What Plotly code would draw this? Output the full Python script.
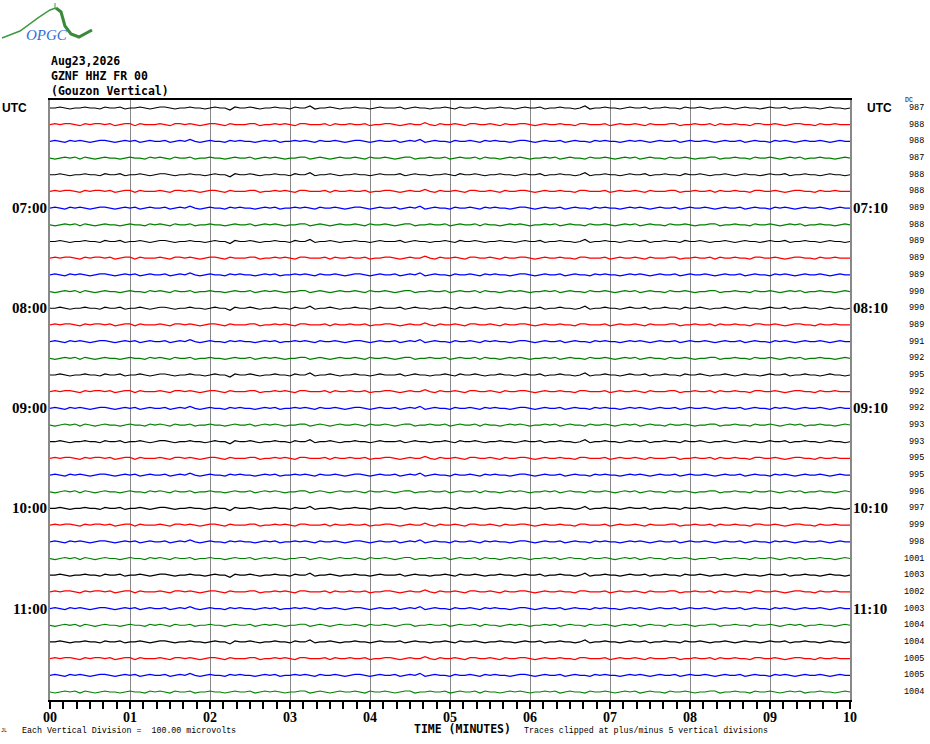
import numpy as np
import plotly.graph_objects as go

# --- data -------------------------------------------------------------
header_lines = ["Aug23,2026", "GZNF HHZ FR 00", "(Gouzon Vertical)"]
hour_rows = [6, 12, 18, 24, 30]
left_hour_labels = ["07:00", "08:00", "09:00", "10:00", "11:00"]
right_hour_labels = ["07:10", "08:10", "09:10", "10:10", "11:10"]
minute_ticks = list(range(11))
minute_labels = ["00", "01", "02", "03", "04", "05", "06", "07", "08", "09", "10"]
dc_offsets = [987, 988, 988, 987, 988, 988, 989, 988,
              989, 989, 989, 990, 990, 989, 991, 992, 995, 992, 992, 993, 993, 995,
              995, 996, 997, 999, 998, 1001, 1003, 1002, 1003, 1004, 1004, 1005, 1005, 1004]
trace_colors = ["black", "red", "blue", "green"]

# trace wiggle (pixels, + = up), one per colour
wiggle_black = [0, 0, 1, 0, -1, 0, 0, 1, 0, 0, -1, 1, 0, 0, 1, -1, 0, 0, 1, 0,
                -1, 0, 1, 1, 0, -1, 0, 0, 1, 0, 0, -1, 0, 1, 0, 0, -2, 1, 0, 0,
                1, 0, -1, 0, 0, 1, 0, 0, -1, 1, 0, 0, 2, -1, 0, 0, 1, 0, -1, 0,
                0, 1, 0, 0, -1, 0, 1, 0, 0, 0, 1, -1, 0, 1, 0, 0, -1, 0, 0, 1,
                0, -1, 1, 0, 0, 1, 0, -1, 0, 0, 1, 0, 0, -1, 0, 1, 0, 0, 1, -1,
                0, 0, 1, 0, 0, -1, 0, 2, -1, 0, 0, 1, 0, 0, -1, 0, 1, 0, 0, 1,
                -1, 0, 0, 1, 0, 0, -1, 1, 0, 0, 1, 0, -1, 0, 0, 1, 0, -1, 0, 1,
                0, 0, -1, 0, 1, 0, 0, 1, -1, 0, 0, 1, 0, 0, -1, 0, 1, 0, 0, -1, 0]
wiggle_red = [0, 1, 0, 1, 1, 0, -1, 1, 0, 1, 1, 0, 1, -1, 0, 1, 1, -1, 1, 0,
              0, 0, 1, 0, -1, 1, 1, 0, 1, 0, -1, 0, 1, 1, 0, -1, 1, 0, 0, 0,
              1, 1, -1, 0, 0, 1, 0, 1, 0, -1, 1, 1, 0, 0, 0, 1, -1, 1, 0, 0,
              1, 0, 0, 1, -1, 0, 0, 1, 1, 0, -1, 0, 1, 0, 0, 2, 0, -1, 1, 0,
              0, 1, 0, -1, 1, 1, 0, 0, 1, 0, -1, 1, 0, 0, 1, 1, 0, -1, 0, 1,
              0, 0, 1, 0, 0, -1, 1, 1, 0, 0, 0, 1, -1, 0, 1, 0, 0, 1, 0, -1,
              1, 0, 0, 0, 1, 1, -1, 0, 0, 1, 0, 0, 1, -1, 1, 0, 0, 1, 0, 0,
              -1, 1, 1, 0, 0, 1, 0, -1, 0, 1, 1, 0, 0, -1, 1, 0, 0, 1, 0, 0, 0]
wiggle_blue = [0, 1, 0, -1, 1, 0, 1, 0, -1, 0, 1, 1, 0, -1, 0, 1, 0, 1, -1, 0,
               1, 0, 0, 1, -1, 0, 1, 0, 2, 0, -1, 0, 1, 0, 0, -1, 1, 0, 1, 0,
               0, -1, 0, 1, 0, 1, -1, 0, 0, 1, 0, 1, 0, -1, 1, 0, 0, 1, 0, -1,
               0, 1, 1, 0, -1, 0, 1, 0, 0, 1, -1, 0, 1, 0, 2, -1, 0, 1, 0, 0,
               -1, 1, 0, 0, 1, 0, -1, 1, 0, 1, 0, 0, -1, 0, 1, 1, 0, -1, 0, 1,
               0, 0, 1, -1, 0, 1, 0, 0, -1, 1, 0, 1, 0, 0, -1, 0, 1, 0, 1, 0,
               -1, 0, 1, 0, 0, 1, -1, 0, 1, 0, 0, 1, 0, -1, 0, 1, 0, 0, 1, -1,
               0, 1, 0, 0, -1, 1, 0, 1, 0, -1, 0, 1, 0, 0, 1, 0, -1, 0, 1, 0, 0]
wiggle_green = [0, -1, 0, 1, 0, 1, -1, 1, 0, -1, 0, 1, 0, 0, -1, 0, 1, 0, 0, -1,
                1, 0, 1, 0, -1, 1, 0, 0, 1, -1, 0, 0, 1, 0, 0, -1, 0, 1, 0, 0,
                1, -1, 0, 1, 0, 1, 0, -1, 0, 0, 1, 1, -1, 0, 1, 0, -1, 0, 1, 0,
                0, 1, 0, -1, 1, 0, 0, 1, 0, -1, 0, 1, 1, -1, 0, 0, 1, 0, 0, 1,
                -1, 0, 1, 0, 0, 1, -1, 1, 0, 0, -1, 0, 1, 0, 1, 0, -1, 0, 0, 1,
                0, 1, -1, 0, 1, 0, 0, -1, 1, 0, 0, 1, 0, -1, 0, 1, 0, 1, -1, 0,
                1, 0, 0, -1, 1, 0, 0, 1, 0, -1, 0, 0, 1, 1, -1, 0, 0, 1, 0, 0,
                -1, 1, 0, 0, 1, 0, -1, 0, 1, 0, 1, -1, 0, 0, 1, 0, 0, -1, 0, 1, 0]
wiggles = [wiggle_black, wiggle_red, wiggle_blue, wiggle_green]

# --- geometry (px of the 930x744 page) ----------------------------------
W, H = 930, 744
L, R, T, B = 50, 850, 100, 700
ROW0, ROW_STEP = 108, 16.686
n_rows = len(dc_offsets)
y_top = (T - ROW0) / ROW_STEP
y_bot = (B - ROW0) / ROW_STEP


def px_x(x):
    return (x - L) / (R - L)


def px_y(y):
    return (B - y) / (B - T)


fig = go.Figure()

for row in range(n_rows):
    w = wiggles[row % 4]
    minutes = np.linspace(0, 10, len(w))
    fig.add_trace(go.Scatter(
        x=minutes,
        y=row - np.array(w) / ROW_STEP,
        mode="lines",
        line=dict(color=trace_colors[row % 4], width=1.2),
        hoverinfo="skip",
        showlegend=False,
    ))

ann = []
mono = "DejaVu Sans Mono"
for i, txt in enumerate(header_lines):
    ann.append(dict(x=px_x(49), y=px_y(61 + 15 * i), text=txt, xanchor="left",
                    font=dict(family=mono, size=11.5, color="black", weight="bold")))

bold_sans = dict(family="Liberation Sans", size=12, color="black", weight="bold")
bold_serif = dict(family="Liberation Serif", size=15, color="black", weight="bold")
ann.append(dict(x=px_x(0), y=0, yref="y", text="UTC", xanchor="left", font=bold_sans))
ann.append(dict(x=px_x(865), y=0, yref="y", text="UTC", xanchor="left", font=bold_sans))
for r, lt, rt in zip(hour_rows, left_hour_labels, right_hour_labels):
    ann.append(dict(x=px_x(49), y=r, yref="y", text=lt, xanchor="right", font=bold_serif))
    ann.append(dict(x=px_x(851), y=r, yref="y", text=rt, xanchor="left", font=bold_serif))

for r, dc in enumerate(dc_offsets):
    ann.append(dict(x=px_x(926), y=r, yref="y", text=str(dc), xanchor="right",
                    font=dict(family="Liberation Mono", size=8.5, color="black")))
ann.append(dict(x=px_x(903), y=px_y(100), text="DC", xanchor="left",
                font=dict(family="Liberation Mono", size=6.5, color="black")))

ann.append(dict(x=px_x(462), y=px_y(729), text="TIME (MINUTES)", xanchor="center",
                font=dict(family=mono, size=11.5, color="black", weight="bold")))
ann.append(dict(x=px_x(20), y=px_y(730), text="Each Vertical Division =  100.00 microvolts",
                xanchor="left", font=dict(family="Liberation Mono", size=8.3, color="black")))
ann.append(dict(x=px_x(522), y=px_y(730),
                text="Traces clipped at plus/minus 5 vertical divisions",
                xanchor="left", font=dict(family="Liberation Mono", size=8.3, color="black")))
ann.append(dict(x=px_x(4), y=px_y(731), text="JL", xanchor="center",
                font=dict(family="Liberation Mono", size=5, color="black")))

# logo
ann.append(dict(x=px_x(47), y=px_y(35), text="<i>OPGC</i>", xanchor="center",
                font=dict(family="Liberation Serif", size=15, color="#2f6fd6")))
for a in ann:
    a.setdefault("xref", "paper")
    a.setdefault("yref", "paper")
    a["yanchor"] = "middle"
    a["showarrow"] = False

logo_thin = [(2, 38), (20, 31), (38, 18), (50, 10), (56, 8)]
logo_thick = [(56, 8), (61, 12), (65, 26), (71, 34), (79, 37), (92, 30)]


def path(pts):
    return "M " + " L ".join("%.4f,%.4f" % (px_x(x), px_y(y)) for x, y in pts)


shapes = [
    dict(type="path", xref="paper", yref="paper", path=path(logo_thin),
         line=dict(color="#3f9a3f", width=1.5)),
    dict(type="path", xref="paper", yref="paper", path=path(logo_thick),
         line=dict(color="#3a8a3a", width=3)),
    dict(type="line", xref="paper", yref="paper", x0=px_x(55), x1=px_x(55),
         y0=px_y(3), y1=px_y(9), line=dict(color="#3f9a3f", width=1)),
]

fig.update_layout(
    width=W, height=H,
    margin=dict(l=L, r=W - R, t=T, b=H - B),
    paper_bgcolor="white", plot_bgcolor="white",
    annotations=ann, shapes=shapes,
    xaxis=dict(
        range=[0, 10], tickvals=minute_ticks, ticktext=minute_labels,
        ticks="outside", ticklen=7, tickcolor="black", tickwidth=1.5,
        ticklabelstandoff=-4,
        minor=dict(dtick=1 / 6, ticks="outside", ticklen=7, tickcolor="black", tickwidth=1.5),
        showgrid=True, gridcolor="#888888", gridwidth=1, zeroline=False,
        showline=True, linecolor="black", linewidth=2, mirror=True,
        tickfont=dict(family="Liberation Serif", size=14, color="black", weight="bold"),
    ),
    yaxis=dict(
        range=[y_bot, y_top], showticklabels=False, showgrid=False, zeroline=False,
        showline=True, linecolor="#888888", linewidth=1.5, mirror=True,
    ),
)

fig.write_html("out.html", config={"displayModeBar": False},
               post_script="document.body.style.margin='0';")
